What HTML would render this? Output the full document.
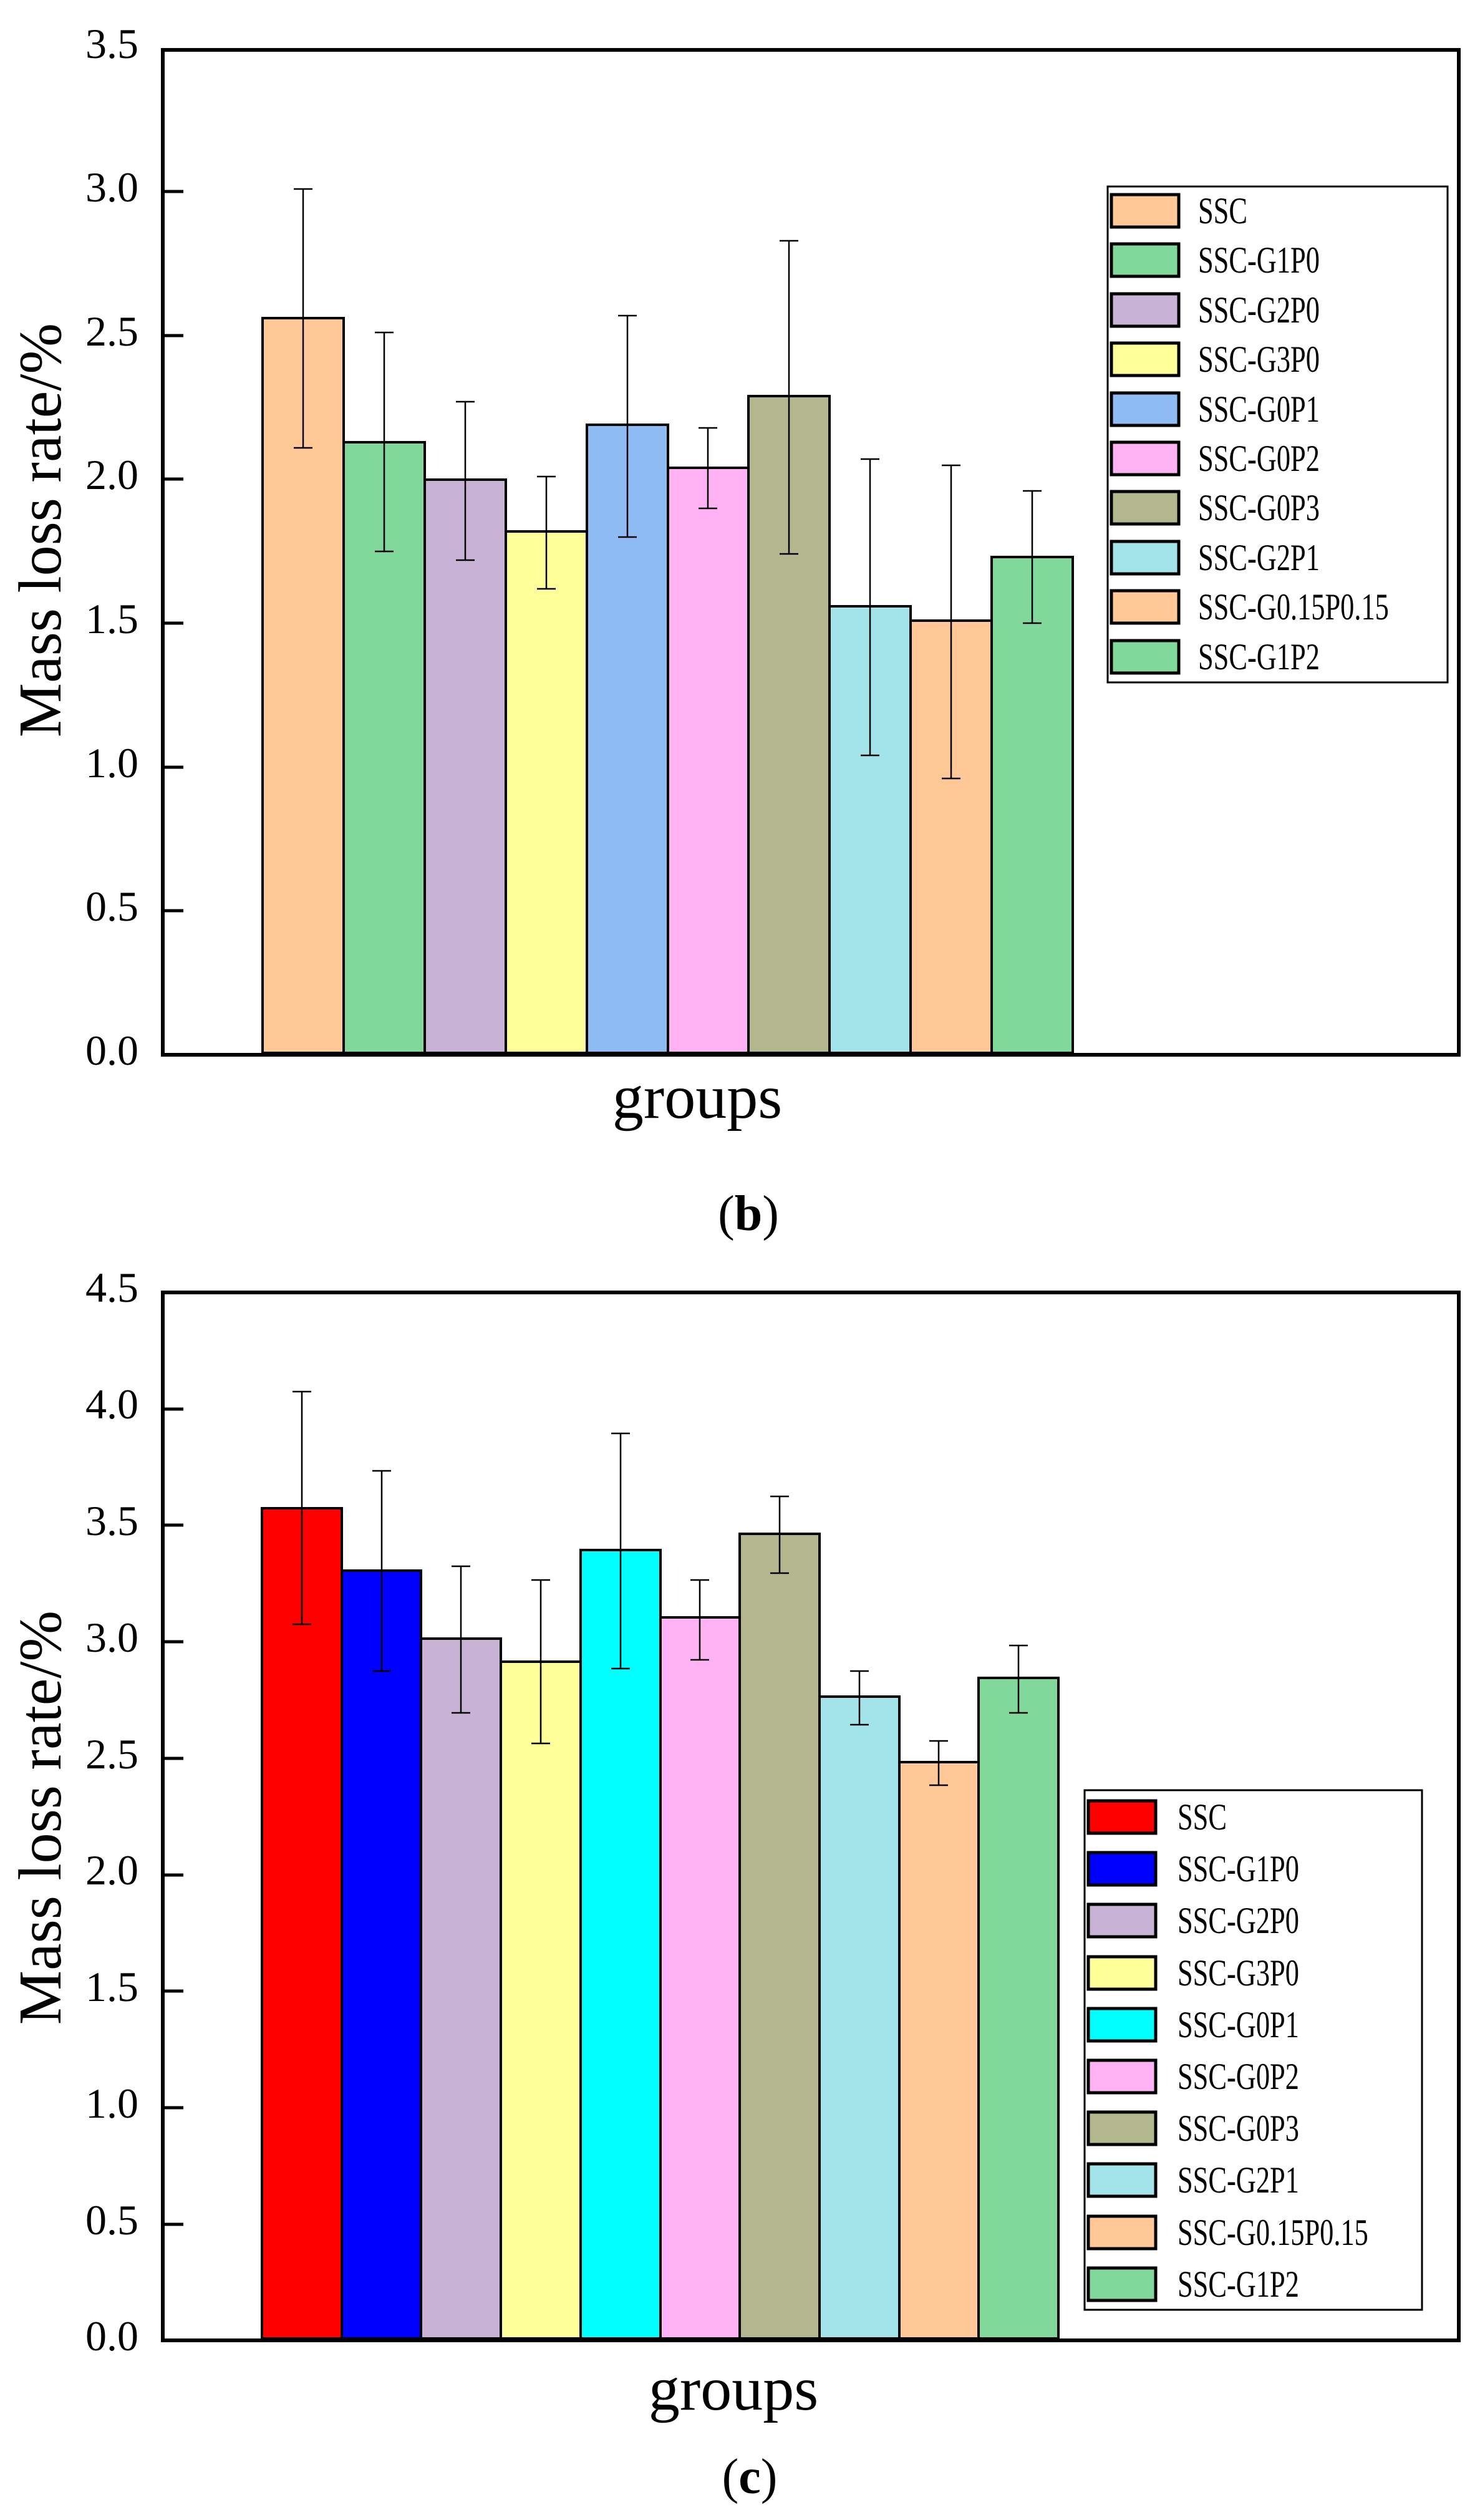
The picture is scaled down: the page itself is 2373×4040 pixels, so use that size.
<!DOCTYPE html>
<html><head><meta charset="utf-8"><style>
html,body{margin:0;padding:0;background:#fff;}
svg{display:block;}
text{font-family:"Liberation Serif",serif;fill:#000;}
</style></head><body>
<svg width="2373" height="4040" viewBox="0 0 2373 4040" xmlns="http://www.w3.org/2000/svg">
<rect width="2373" height="4040" fill="#fff"/>

<!-- ===== Chart (b) ===== -->
<g stroke="#000" stroke-width="4">
<rect x="421" y="510" width="130" height="1178" fill="#FFC896"/>
<rect x="551" y="709" width="130" height="979" fill="#80D99B"/>
<rect x="681" y="769" width="130" height="919" fill="#C8B3D6"/>
<rect x="811" y="852" width="130" height="836" fill="#FFFF99"/>
<rect x="941" y="681" width="130" height="1007" fill="#8FBBF5"/>
<rect x="1071" y="750" width="129" height="938" fill="#FFB3F5"/>
<rect x="1200" y="635" width="130" height="1053" fill="#B2B78E"/>
<rect x="1330" y="972" width="130" height="716" fill="#A2E4EA"/>
<rect x="1460" y="995" width="130" height="693" fill="#FFC896"/>
<rect x="1590" y="893" width="130" height="795" fill="#80D99B"/>
</g>
<g stroke="#000" stroke-width="2.5" fill="none">
<path d="M486 303V718M471 303H501M471 718H501"/>
<path d="M616 533V884M601 533H631M601 884H631"/>
<path d="M746 644V898M731 644H761M731 898H761"/>
<path d="M876 764V944M861 764H891M861 944H891"/>
<path d="M1006 506V861M991 506H1021M991 861H1021"/>
<path d="M1135 686V815M1120 686H1150M1120 815H1150"/>
<path d="M1265 386V888M1250 386H1280M1250 888H1280"/>
<path d="M1395 736V1211M1380 736H1410M1380 1211H1410"/>
<path d="M1525 746V1248M1510 746H1540M1510 1248H1540"/>
<path d="M1655 787V999M1640 787H1670M1640 999H1670"/>
</g>
<rect x="261" y="80" width="2078" height="1611" fill="none" stroke="#000" stroke-width="6"/>
<g stroke="#000" stroke-width="5">
<line x1="261" y1="307" x2="294" y2="307"/>
<line x1="261" y1="538" x2="294" y2="538"/>
<line x1="261" y1="768" x2="294" y2="768"/>
<line x1="261" y1="999" x2="294" y2="999"/>
<line x1="261" y1="1230" x2="294" y2="1230"/>
<line x1="261" y1="1460" x2="294" y2="1460"/>
</g>
<g font-size="68" text-anchor="end">
<text x="222" y="93">3.5</text>
<text x="222" y="323">3.0</text>
<text x="222" y="554">2.5</text>
<text x="222" y="784">2.0</text>
<text x="222" y="1015">1.5</text>
<text x="222" y="1246">1.0</text>
<text x="222" y="1476">0.5</text>
<text x="222" y="1707">0.0</text>
</g>
<text x="0" y="0" font-size="98" text-anchor="middle" transform="translate(97,850) rotate(-90)">Mass loss rate/%</text>
<text x="1118" y="1792" font-size="100" text-anchor="middle">groups</text>
<text x="1200" y="1972" font-size="80" text-anchor="middle">(<tspan font-weight="bold">b</tspan>)</text>
<rect x="1776" y="299" width="545" height="795" fill="#fff" stroke="#000" stroke-width="3"/>
<g stroke="#000" stroke-width="5">
<rect x="1782" y="312" width="108" height="52" fill="#FFC896"/>
<rect x="1782" y="391" width="108" height="52" fill="#80D99B"/>
<rect x="1782" y="471" width="108" height="52" fill="#C8B3D6"/>
<rect x="1782" y="550" width="108" height="52" fill="#FFFF99"/>
<rect x="1782" y="630" width="108" height="52" fill="#8FBBF5"/>
<rect x="1782" y="709" width="108" height="52" fill="#FFB3F5"/>
<rect x="1782" y="788" width="108" height="52" fill="#B2B78E"/>
<rect x="1782" y="868" width="108" height="52" fill="#A2E4EA"/>
<rect x="1782" y="947" width="108" height="52" fill="#FFC896"/>
<rect x="1782" y="1027" width="108" height="52" fill="#80D99B"/>
</g>
<g font-size="60" transform="translate(1921,0) scale(0.74,1)">
<text x="0" y="358">SSC</text>
<text x="0" y="437">SSC-G1P0</text>
<text x="0" y="517">SSC-G2P0</text>
<text x="0" y="596">SSC-G3P0</text>
<text x="0" y="676">SSC-G0P1</text>
<text x="0" y="755">SSC-G0P2</text>
<text x="0" y="834">SSC-G0P3</text>
<text x="0" y="914">SSC-G2P1</text>
<text x="0" y="993">SSC-G0.15P0.15</text>
<text x="0" y="1073">SSC-G1P2</text>
</g>

<!-- ===== Chart (c) ===== -->
<g stroke="#000" stroke-width="4">
<rect x="420" y="2418" width="128" height="1331" fill="#FF0000"/>
<rect x="548" y="2518" width="127" height="1231" fill="#0000FF"/>
<rect x="675" y="2627" width="128" height="1122" fill="#C8B3D6"/>
<rect x="803" y="2664" width="128" height="1085" fill="#FFFF99"/>
<rect x="931" y="2485" width="128" height="1264" fill="#00FFFF"/>
<rect x="1059" y="2593" width="127" height="1156" fill="#FFB3F5"/>
<rect x="1186" y="2459" width="128" height="1290" fill="#B2B78E"/>
<rect x="1314" y="2720" width="128" height="1029" fill="#A2E4EA"/>
<rect x="1442" y="2825" width="127" height="924" fill="#FFC896"/>
<rect x="1569" y="2690" width="128" height="1059" fill="#80D99B"/>
</g>
<g stroke="#000" stroke-width="2.5" fill="none">
<path d="M484 2231V2604M469 2231H499M469 2604H499"/>
<path d="M612 2358V2679M597 2358H627M597 2679H627"/>
<path d="M739 2511V2746M724 2511H754M724 2746H754"/>
<path d="M867 2533V2795M852 2533H882M852 2795H882"/>
<path d="M995 2298V2675M980 2298H1010M980 2675H1010"/>
<path d="M1122 2533V2661M1107 2533H1137M1107 2661H1137"/>
<path d="M1250 2399V2522M1235 2399H1265M1235 2522H1265"/>
<path d="M1378 2679V2765M1363 2679H1393M1363 2765H1393"/>
<path d="M1505 2791V2862M1490 2791H1520M1490 2862H1520"/>
<path d="M1633 2638V2746M1618 2638H1648M1618 2746H1648"/>
</g>
<rect x="261" y="2072" width="2078" height="1680" fill="none" stroke="#000" stroke-width="6"/>
<g stroke="#000" stroke-width="5">
<line x1="261" y1="2259" x2="294" y2="2259"/>
<line x1="261" y1="2445" x2="294" y2="2445"/>
<line x1="261" y1="2632" x2="294" y2="2632"/>
<line x1="261" y1="2819" x2="294" y2="2819"/>
<line x1="261" y1="3006" x2="294" y2="3006"/>
<line x1="261" y1="3192" x2="294" y2="3192"/>
<line x1="261" y1="3379" x2="294" y2="3379"/>
<line x1="261" y1="3566" x2="294" y2="3566"/>
</g>
<g font-size="68" text-anchor="end">
<text x="222" y="2087">4.5</text>
<text x="222" y="2274">4.0</text>
<text x="222" y="2461">3.5</text>
<text x="222" y="2648">3.0</text>
<text x="222" y="2835">2.5</text>
<text x="222" y="3021">2.0</text>
<text x="222" y="3208">1.5</text>
<text x="222" y="3395">1.0</text>
<text x="222" y="3582">0.5</text>
<text x="222" y="3768">0.0</text>
</g>
<text x="0" y="0" font-size="98" text-anchor="middle" transform="translate(97,2914) rotate(-90)">Mass loss rate/%</text>
<text x="1176" y="3863" font-size="100" text-anchor="middle">groups</text>
<text x="1202" y="3997" font-size="80" text-anchor="middle">(<tspan font-weight="bold">c</tspan>)</text>
<rect x="1739" y="2870" width="541" height="833" fill="#fff" stroke="#000" stroke-width="3"/>
<g stroke="#000" stroke-width="5">
<rect x="1745" y="2887" width="108" height="52" fill="#FF0000"/>
<rect x="1745" y="2970" width="108" height="52" fill="#0000FF"/>
<rect x="1745" y="3053" width="108" height="52" fill="#C8B3D6"/>
<rect x="1745" y="3137" width="108" height="52" fill="#FFFF99"/>
<rect x="1745" y="3220" width="108" height="52" fill="#00FFFF"/>
<rect x="1745" y="3303" width="108" height="52" fill="#FFB3F5"/>
<rect x="1745" y="3386" width="108" height="52" fill="#B2B78E"/>
<rect x="1745" y="3469" width="108" height="52" fill="#A2E4EA"/>
<rect x="1745" y="3553" width="108" height="52" fill="#FFC896"/>
<rect x="1745" y="3636" width="108" height="52" fill="#80D99B"/>
</g>
<g font-size="60" transform="translate(1888,0) scale(0.74,1)">
<text x="0" y="2933">SSC</text>
<text x="0" y="3016">SSC-G1P0</text>
<text x="0" y="3099">SSC-G2P0</text>
<text x="0" y="3183">SSC-G3P0</text>
<text x="0" y="3266">SSC-G0P1</text>
<text x="0" y="3349">SSC-G0P2</text>
<text x="0" y="3432">SSC-G0P3</text>
<text x="0" y="3515">SSC-G2P1</text>
<text x="0" y="3599">SSC-G0.15P0.15</text>
<text x="0" y="3682">SSC-G1P2</text>
</g>
</svg>
</body></html>
